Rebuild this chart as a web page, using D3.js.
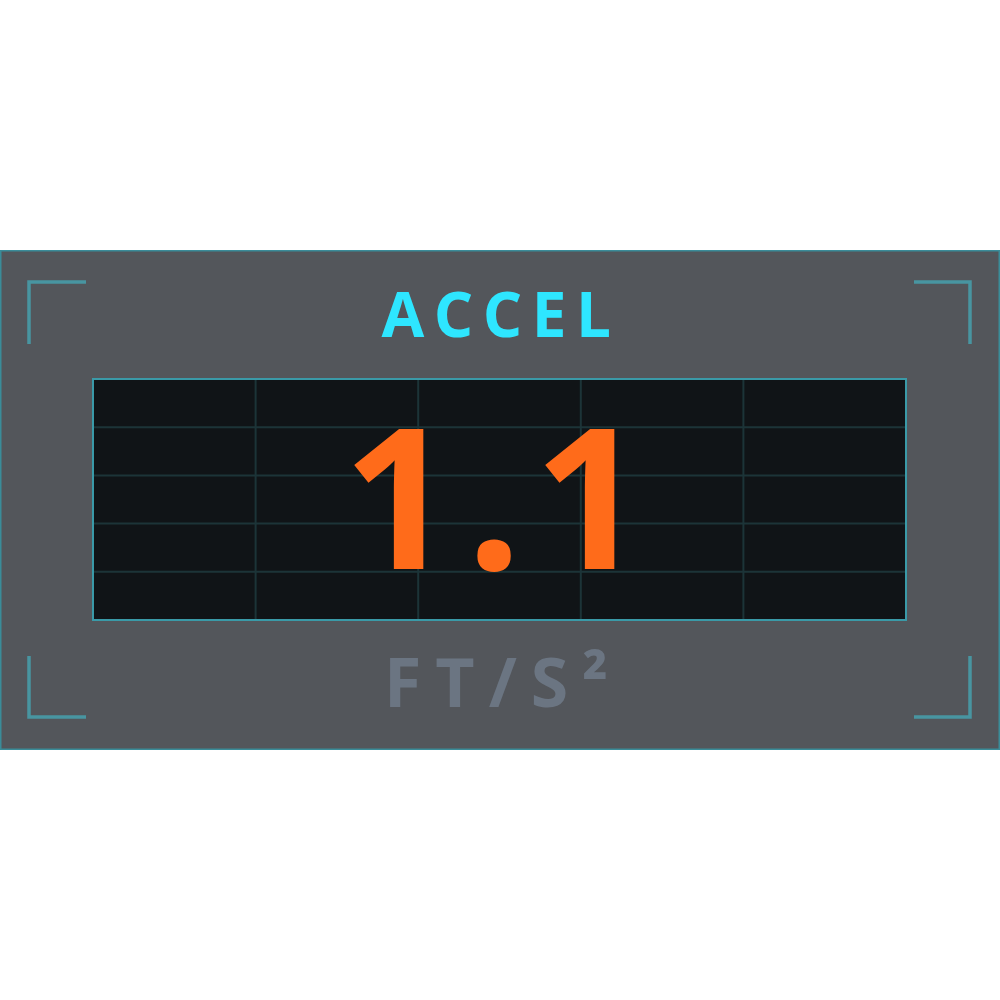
<!DOCTYPE html>
<html>
<head>
<meta charset="utf-8">
<script src="https://cdn.jsdelivr.net/npm/d3@7"></script>
<style>
  html, body { margin: 0; padding: 0; background: #ffffff; }
  svg { display: block; }
</style>
</head>
<body>
<svg id="readout"></svg>
<script>
// readout data
var label = "ACCEL";
var value = 1.1;
var unit = "FT/S\u00b2";
var gridCols = [0, 1, 2, 3, 4, 5];
var gridRows = [0, 1, 2, 3, 4, 5];

var W = 1000, H = 1000;

var svg = d3.select("#readout")
    .attr("width", W)
    .attr("height", H);

// outer panel
svg.append("rect")
  .attr("x", 0.75).attr("y", 250.75)
  .attr("width", 998.5).attr("height", 498.5)
  .attr("fill", "#53565b")
  .attr("stroke", "#3a8c99")
  .attr("stroke-width", 1.5);

// corner brackets
var brackets = [
  [[29, 344], [29, 282], [86, 282]],
  [[914, 282], [970, 282], [970, 344]],
  [[29, 656], [29, 717], [86, 717]],
  [[914, 717], [970, 717], [970, 656]]
];
svg.selectAll(".bracket")
  .data(brackets)
  .enter().append("path")
    .attr("class", "bracket")
    .attr("d", d3.line())
    .attr("fill", "none")
    .attr("stroke", "#4895a1")
    .attr("stroke-width", 3.5);

// display box + grid
var x = d3.scaleLinear().domain([0, 5]).range([93, 906]);
var y = d3.scaleLinear().domain([0, 5]).range([379, 620]);

var g = svg.append("g");
g.append("rect")
  .attr("x", x(0)).attr("y", y(0))
  .attr("width", x(5) - x(0)).attr("height", y(5) - y(0))
  .attr("fill", "#101417");

g.selectAll(".vline")
  .data(gridCols.slice(1, -1))
  .enter().append("line")
    .attr("class", "vline")
    .attr("x1", function(d) { return x(d); })
    .attr("x2", function(d) { return x(d); })
    .attr("y1", y(0)).attr("y2", y(5))
    .attr("stroke", "#1c3438")
    .attr("stroke-width", 2);

g.selectAll(".hline")
  .data(gridRows.slice(1, -1))
  .enter().append("line")
    .attr("class", "hline")
    .attr("x1", x(0)).attr("x2", x(5))
    .attr("y1", function(d) { return y(d); })
    .attr("y2", function(d) { return y(d); })
    .attr("stroke", "#1c3438")
    .attr("stroke-width", 2);

g.append("rect")
  .attr("x", x(0)).attr("y", y(0))
  .attr("width", x(5) - x(0)).attr("height", y(5) - y(0))
  .attr("fill", "none")
  .attr("stroke", "#3a9aa8")
  .attr("stroke-width", 2);

// texts
var font = "'Open Sans', 'Noto Sans', sans-serif";

svg.append("text")
  .attr("x", 501).attr("y", 337)
  .attr("text-anchor", "middle")
  .attr("font-family", font)
  .attr("font-weight", "bold")
  .attr("font-size", 62)
  .attr("letter-spacing", 9.5)
  .attr("fill", "#2ee6ff")
  .text(label);

svg.append("text")
  .attr("x", 500).attr("y", 569)
  .attr("text-anchor", "middle")
  .attr("font-family", font)
  .attr("font-weight", "bold")
  .attr("font-size", 195)
  .attr("letter-spacing", 12)
  .attr("fill", "#ff6b1a")
  .text(d3.format(".1f")(value));

svg.append("text")
  .attr("x", 503).attr("y", 707)
  .attr("text-anchor", "middle")
  .attr("font-family", font)
  .attr("font-weight", "bold")
  .attr("font-size", 68)
  .attr("letter-spacing", 14)
  .attr("fill", "#6b7582")
  .text(unit);
</script>
</body>
</html>
